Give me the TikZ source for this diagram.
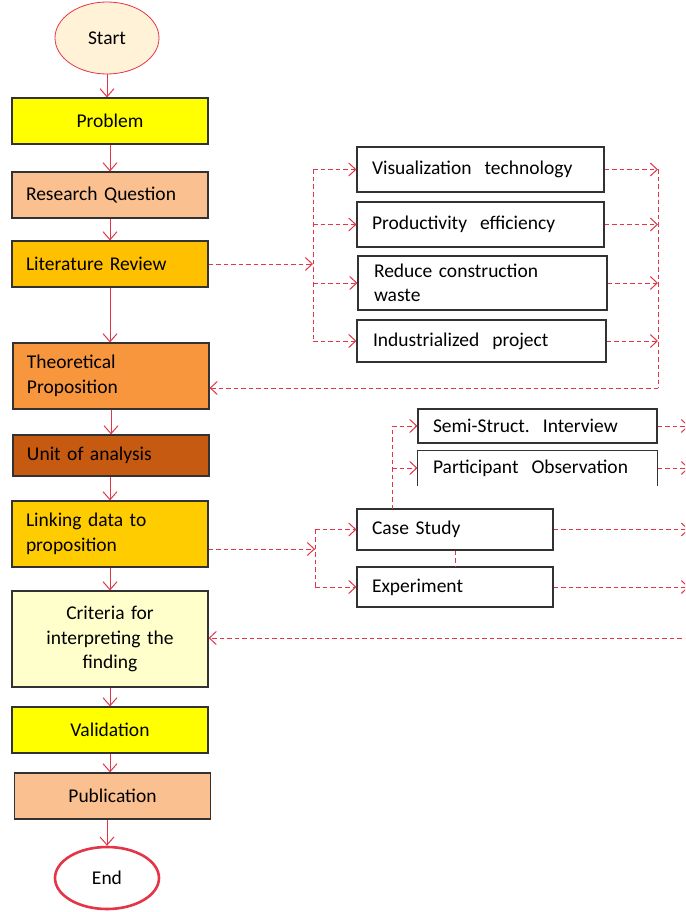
\documentclass[tikz,border=0pt]{standalone}
\usepackage{fontspec}
\setmainfont{Carlito}
\usepackage{xcolor}
\usetikzlibrary{arrows.meta, shapes.geometric}

\definecolor{boxgray}{RGB}{50,50,50}
\definecolor{arrred}{RGB}{228,52,72}
\definecolor{probyellow}{RGB}{255,255,0}
\definecolor{peach}{RGB}{250,192,144}
\definecolor{amber}{RGB}{255,192,0}
\definecolor{theoorange}{RGB}{248,150,62}
\definecolor{unitbrown}{RGB}{198,90,17}
\definecolor{linkgold}{RGB}{255,204,0}
\definecolor{critcream}{RGB}{255,255,204}
\definecolor{startcream}{RGB}{255,242,214}

\begin{document}
\begin{tikzpicture}[x=1pt,y=-1pt,
%
    font=\fontsize{19.5}{24.5}\selectfont,
    stepbox/.style={draw=boxgray,line width=1.1pt,minimum width=196pt,minimum height=46pt,inner sep=0pt,text width=168pt},
    sidebox/.style={draw=boxgray,line width=1.1pt,minimum width=247pt,minimum height=45pt,inner sep=0pt,text width=217pt,align=left},
    term/.style={ellipse,draw=arrred,inner sep=0pt},
     Arr/.style={-{Straight Barb[length=8pt,width=14pt]},draw=arrred,line width=1pt},
    DArr/.style={-{Straight Barb[length=7pt,width=13pt]},draw=arrred,line width=1pt,dash pattern=on 4.5pt off 3pt},
    Dash/.style={draw=arrred,line width=1pt,dash pattern=on 4.5pt off 3pt},
                        ]
    \useasboundingbox (0,0) rectangle (685,912);
    \fill[white] (0,0) rectangle (685,912);
    \clip (0,0) rectangle (685,912);

    % main column
    \node[term,fill=startcream,line width=0.8pt,minimum width=104pt,minimum height=72pt] (start) at (107,38) {Start};
    \node[stepbox,fill=probyellow,align=center] (prob)  at (110,121) {Problem};
    \node[stepbox,fill=peach,align=left]        (rq)    at (110,195) {Research Question};
    \node[stepbox,fill=amber,align=left]        (lit)   at (110,264) {Literature Review};
    \node[stepbox,fill=theoorange,align=left,minimum height=66pt] (theo) at (111,376) {Theoretical\\Proposition};
    \node[stepbox,fill=unitbrown,align=left,minimum height=41pt]  (unit) at (111,455.5) {Unit of analysis};
    \node[stepbox,fill=linkgold,align=left,minimum height=66pt]   (link) at (110,534) {Linking data to\\proposition};
    \node[stepbox,fill=critcream,align=center,minimum height=96pt] (crit) at (110,639) {Criteria for\\interpreting the\\finding};
    \node[stepbox,fill=probyellow,align=center] (valid) at (110,730) {Validation};
    \node[stepbox,fill=peach,align=center]      (pub)   at (112.5,796) {Publication};
    \node[term,fill=white,line width=2.6pt,minimum width=104pt,minimum height=62pt] (end) at (107,878) {End};

    \draw[Arr] (start) -- (prob.north -| start);
    \draw[Arr] (prob) -- (rq);
    \draw[Arr] (rq) -- (lit);
    \draw[Arr] (lit) -- (theo.north -| lit);
    \draw[Arr] (theo) -- (unit);
    \draw[Arr] (unit.south -| link) -- (link);
    \draw[Arr] (link) -- (crit);
    \draw[Arr] (crit) -- (valid);
    \draw[Arr] (valid) -- (pub.north -| valid);
    \draw[Arr] (pub.south -| end) -- (end);

    % literature branches
    \node[sidebox] (vis)  at (480.5,169.5) {Visualization\ \ technology};
    \node[sidebox] (prod) at (480.5,224.5) {Productivity\ \ efficiency};
    \node[sidebox,minimum width=249pt,minimum height=54pt] (red) at (482.5,283) {Reduce construction\\waste};
    \node[sidebox,minimum width=249pt,minimum height=42pt] (ind) at (481.5,341) {Industrialized\ \ project};

    \coordinate (lbus) at (313,264);
    \coordinate (rbus) at (658,388);
    \draw[DArr] (lit.east) -- (lbus);
    \draw[Dash] (lbus |- vis.west) -- (lbus |- ind.west);
    \foreach \b in {vis,prod,red,ind}
        \draw[DArr] (lbus |- \b.west) -- (\b.west);
    \foreach \b in {vis,prod,red,ind}
        \draw[DArr] (\b.east) -- (\b.east -| rbus);
    \draw[Dash] (vis.east -| rbus) -- (rbus);
    \draw[DArr] (rbus) -- (rbus -| theo.east);

    % data collection branches
    \node[sidebox,minimum width=239pt,minimum height=34pt,text width=209pt] (semi) at (537.5,426) {Semi-Struct.\ \ Interview};
    \node[sidebox,draw=none,minimum width=239pt,minimum height=34pt,text width=209pt] (part) at (537.5,468) {Participant\ \ Observation};
    \draw[boxgray,line width=1.1pt] (part.south west) |- (part.north east) -- (part.south east);
    \node[sidebox,minimum width=196pt,minimum height=41pt,text width=166pt] (case) at (455,529.5) {Case Study};
    \node[sidebox,minimum width=196pt,minimum height=40pt,text width=166pt] (exp)  at (455,587) {Experiment};

    \coordinate (mbus) at (315,549);
    \coordinate (ubus) at (392,509);
    \coordinate (xbus) at (689,638);
    \draw[DArr] (link.east |- mbus) -- (mbus);
    \draw[Dash] (mbus |- case.west) -- (mbus |- exp.west);
    \draw[DArr] (mbus |- case.west) -- (case.west);
    \draw[DArr] (mbus |- exp.west) -- (exp.west);
    \draw[Dash] (case.south) -- (exp.north);
    \draw[Dash] (ubus) -- (ubus |- semi.west);
    \draw[DArr] (ubus |- semi.west) -- (semi.west);
    \draw[DArr] (ubus |- part.west) -- (part.west);
    \foreach \b in {semi,part,case,exp}
        \draw[DArr] (\b.east) -- (\b.east -| xbus);
    \draw[Dash] (semi.east -| xbus) -- (xbus);
    \draw[DArr] (xbus) -- (xbus -| crit.east);

    \end{tikzpicture}
\end{document}
